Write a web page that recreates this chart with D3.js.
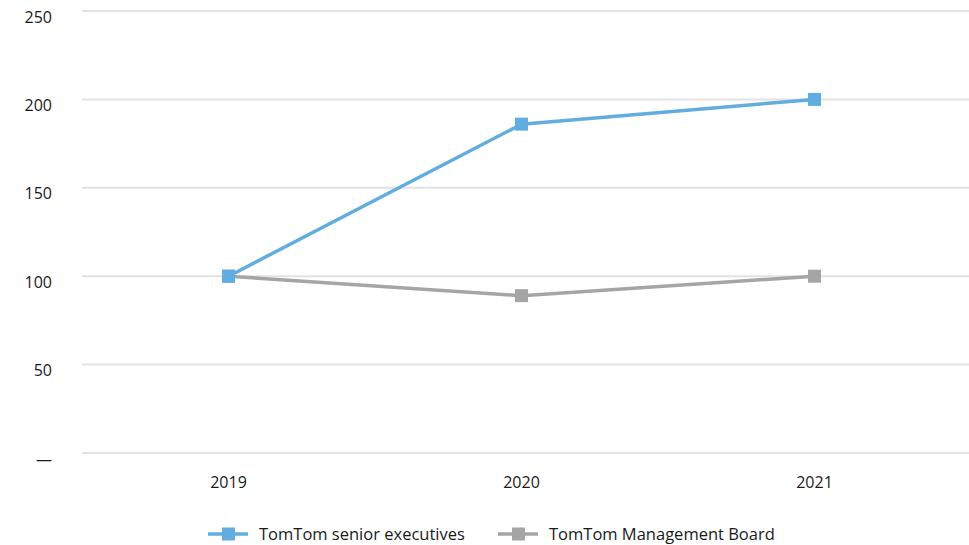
<!DOCTYPE html>
<html>
<head>
<meta charset="utf-8">
<script src="https://cdn.jsdelivr.net/npm/d3@7"></script>
<style>
  body { margin: 0; background: #fff; }
  text { font-family: "Open Sans", "DejaVu Sans", sans-serif; }
</style>
</head>
<body>
<svg width="969" height="545"></svg>
<script>
const years = ['2019', '2020', '2021']
const seniorExecs = [100, 186, 200]
const mgmtBoard = [100, 89, 100]
const yTicks = [0, 50, 100, 150, 200, 250]
const seriesNames = ['TomTom senior executives', 'TomTom Management Board']
const seriesColors = ['#62ade0', '#a5a5a5']

const svg = d3.select('svg')
const plotLeft = 82, plotRight = 961, plotTop = 11, plotBottom = 453

const x = d3.scaleBand()
  .domain(years)
  .range([plotLeft, plotRight])

const y = d3.scaleLinear()
  .domain([0, 250])
  .range([plotBottom, plotTop])

// gridlines
svg.append('g').selectAll('line')
  .data(yTicks)
  .enter()
  .append('line')
  .attr('x1', plotLeft)
  .attr('x2', 969)
  .attr('y1', d => y(d))
  .attr('y2', d => y(d))
  .attr('stroke', '#e3e3e3')
  .attr('stroke-width', 2)

// y labels (sit a little below their gridline)
svg.append('g').selectAll('text')
  .data(yTicks)
  .enter()
  .append('text')
  .attr('x', 52)
  .attr('y', d => y(d) + 6)
  .attr('dy', '0.35em')
  .attr('text-anchor', 'end')
  .attr('font-size', 16)
  .attr('fill', '#1a1a1a')
  .text(d => d === 0 ? '—' : d)

// x labels
svg.append('g').selectAll('text')
  .data(years)
  .enter()
  .append('text')
  .attr('x', d => x(d) + x.bandwidth() / 2)
  .attr('y', 482)
  .attr('dy', '0.35em')
  .attr('text-anchor', 'middle')
  .attr('font-size', 16)
  .attr('fill', '#1a1a1a')
  .text(d => d)

const line = d3.line()
  .x((d, i) => x(years[i]) + x.bandwidth() / 2)
  .y(d => y(d))

const allSeries = [mgmtBoard, seniorExecs]
const allColors = [seriesColors[1], seriesColors[0]]

allSeries.forEach((vals, k) => {
  svg.append('path')
    .datum(vals)
    .attr('d', line)
    .attr('fill', 'none')
    .attr('stroke', allColors[k])
    .attr('stroke-width', 3.5)

  svg.append('g').selectAll('rect')
    .data(vals)
    .enter()
    .append('rect')
    .attr('x', (d, i) => x(years[i]) + x.bandwidth() / 2 - 6.5)
    .attr('y', d => y(d) - 6.5)
    .attr('width', 13)
    .attr('height', 13)
    .attr('fill', allColors[k])
})

// legend
const legendX = [208, 498]
const legendY = 534
seriesNames.forEach((name, i) => {
  const lg = svg.append('g')
  lg.append('line')
    .attr('x1', legendX[i])
    .attr('x2', legendX[i] + 40)
    .attr('y1', legendY)
    .attr('y2', legendY)
    .attr('stroke', seriesColors[i])
    .attr('stroke-width', 3.5)
  lg.append('rect')
    .attr('x', legendX[i] + 14)
    .attr('y', legendY - 6.5)
    .attr('width', 13)
    .attr('height', 13)
    .attr('fill', seriesColors[i])
  lg.append('text')
    .attr('x', legendX[i] + 51)
    .attr('y', legendY)
    .attr('dy', '0.35em')
    .attr('font-size', 16.5)
    .attr('fill', '#1a1a1a')
    .text(name)
})
</script>
</body>
</html>
